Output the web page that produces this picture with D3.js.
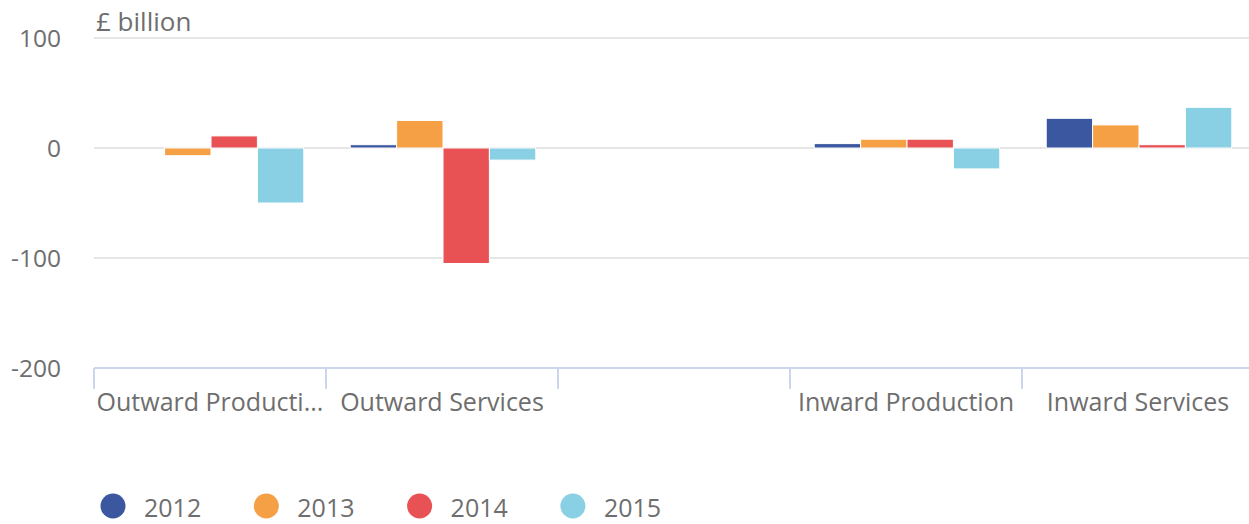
<!DOCTYPE html>
<html>
<head>
<meta charset="utf-8">
<script src="https://cdn.jsdelivr.net/npm/d3@7"></script>
<style>
  body { margin: 0; background: #fff; }
  text { font-family: "Open Sans", sans-serif; fill: #6e6e6e; }
</style>
</head>
<body>
<svg id="drawing_region"></svg>
<script>
// categories (third slot is blank in the source)
const categories = ["Outward Producti...", "Outward Services", "", "Inward Production", "Inward Services"];
const years = ["2012", "2013", "2014", "2015"];
const colors = ["#3b57a0", "#f6a045", "#e85254", "#89d0e5"];

// values in £ billion, one array per year
const v2012 = [0, 3, null, 4, 27];
const v2013 = [-7, 25, null, 8, 21];
const v2014 = [11, -105, null, 8, 3];
const v2015 = [-50, -11, null, -19, 37];

const yTicks = [100, 0, -100, -200];

const series = [v2012, v2013, v2014, v2015];

const width = 1249, height = 524;
const margin = { left: 94, right: -5, top: 38, bottom: 156 };

const svg = d3.select('#drawing_region')
    .attr('width', width)
    .attr('height', height);

const x = d3.scaleBand()
    .domain(d3.range(categories.length))
    .range([margin.left, width - margin.right])
    .paddingInner(0)
    .paddingOuter(0);

const x1 = d3.scaleBand()
    .domain(d3.range(years.length))
    .range([0, x.bandwidth()])
    .paddingOuter(0.5)
    .paddingInner(0);

const y = d3.scaleLinear()
    .domain([-200, 100])
    .range([height - margin.bottom, margin.top]);

// gridlines
svg.append('g')
    .selectAll('line')
    .data(yTicks.filter(d => d !== -200))
    .enter()
    .append('line')
    .attr('x1', margin.left)
    .attr('x2', width)
    .attr('y1', d => y(d))
    .attr('y2', d => y(d))
    .attr('stroke', '#e6e6e6')
    .attr('stroke-width', 2);

// y tick labels
svg.append('g')
    .selectAll('text')
    .data(yTicks)
    .enter()
    .append('text')
    .attr('x', 61)
    .attr('y', d => y(d) + 9)
    .attr('text-anchor', 'end')
    .style('font-size', '24.5px')
    .text(d => d);

svg.append('text')
    .attr('x', 96)
    .attr('y', 31)
    .style('font-size', '26px')
    .text('£ billion');

// bars
series.forEach((vals, si) => {
    svg.append('g')
        .selectAll('rect')
        .data(vals.map((v, i) => ({ i, v })).filter(d => d.v !== null && d.v !== 0))
        .enter()
        .append('rect')
        .attr('x', d => x(d.i) + x1(si) + 1)
        .attr('width', x1.bandwidth())
        .attr('y', d => y(Math.max(0, d.v)))
        .attr('height', d => Math.abs(y(d.v) - y(0)))
        .attr('fill', colors[si])
        .attr('stroke', '#ffffff')
        .attr('stroke-width', 1);
});

// x axis
const axisY = y(-200);
svg.append('line')
    .attr('x1', margin.left)
    .attr('x2', width)
    .attr('y1', axisY)
    .attr('y2', axisY)
    .attr('stroke', '#ccd6eb')
    .attr('stroke-width', 2);

svg.append('g')
    .selectAll('line')
    .data(categories)
    .enter()
    .append('line')
    .attr('x1', (d, i) => x(i))
    .attr('x2', (d, i) => x(i))
    .attr('y1', axisY)
    .attr('y2', axisY + 21)
    .attr('stroke', '#ccd6eb')
    .attr('stroke-width', 2);

svg.append('g')
    .selectAll('text')
    .data(categories)
    .enter()
    .append('text')
    .attr('x', (d, i) => x(i) + x.bandwidth() / 2)
    .attr('y', axisY + 43)
    .attr('text-anchor', 'middle')
    .style('font-size', '25px')
    .text(d => d);

// legend
const legend = svg.append('g')
    .selectAll('g')
    .data(years)
    .enter()
    .append('g')
    .attr('transform', (d, i) => `translate(${113 + i * 153.3}, 506)`);

legend.append('circle')
    .attr('r', 12.5)
    .attr('fill', (d, i) => colors[i]);

legend.append('text')
    .attr('x', 31)
    .attr('y', 11)
    .style('font-size', '25px')
    .text(d => d);
</script>
</body>
</html>
